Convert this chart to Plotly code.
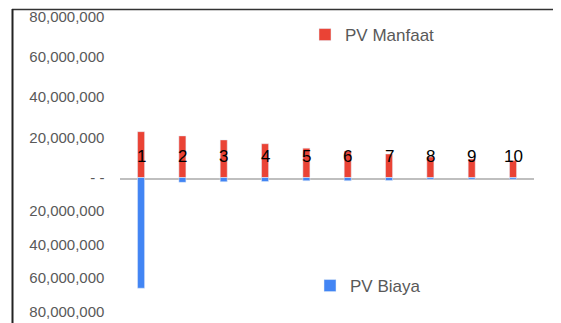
import plotly.graph_objects as go

categories = ["1", "2", "3", "4", "5", "6", "7", "8", "9", "10"]
pv_manfaat = [22.8e6, 20.7e6, 18.7e6, 16.8e6, 14.6e6, 13.2e6, 11.7e6, 10.2e6, 9.2e6, 8.4e6]
pv_biaya = [-66.0e6, -2.9e6, -2.5e6, -2.4e6, -1.9e6, -1.9e6, -1.8e6, -1.0e6, -1.0e6, -1.0e6]
pos_ticks = [0, 20e6, 40e6, 60e6, 80e6]
pos_ticktext = ["- -", "20,000,000", "40,000,000", "60,000,000", "80,000,000"]
neg_ticks = [-20e6, -40e6, -60e6, -80e6]
neg_ticktext = ["20,000,000", "40,000,000", "60,000,000", "80,000,000"]

OFF = 8  # default page body margin
W, H = 561 - OFF, 323 - OFF
RED = "#EA4335"
BLUE = "#4285F4"
GREY_TXT = "#595959"
FONT = "Liberation Sans, Arial, sans-serif"

def px_x(p):
    return (p - OFF) / W

def px_y(p):
    return 1 - (p - OFF) / H

fig = go.Figure()
fig.add_trace(go.Bar(x=categories, y=pv_manfaat, name="PV Manfaat", marker_color=RED,
                     width=0.17, xaxis="x", yaxis="y", legend="legend", showlegend=True))
fig.add_trace(go.Bar(x=categories, y=pv_biaya, name="PV Biaya", marker_color=BLUE,
                     width=0.17, xaxis="x", yaxis="y2", legend="legend2", showlegend=True))

for i, c in enumerate(categories):
    fig.add_annotation(x=i, y=0, xref="x", yref="y", text=c, showarrow=False,
                       yanchor="middle", yshift=21,
                       font=dict(family=FONT, size=17, color="#000000"))

zero_px = 177.5
fig.update_layout(
    width=W, height=H,
    showlegend=True,
    margin=dict(l=0, r=0, t=0, b=0, autoexpand=False),
    paper_bgcolor="white", plot_bgcolor="white",
    barmode="overlay",
    xaxis=dict(domain=[px_x(120.4), px_x(533.7)], anchor="y", type="category",
               range=[-0.5, 9.5], showticklabels=False, ticks="", automargin=False,
               showline=True, linecolor="#BFBFBF", linewidth=2, showgrid=False,
               zeroline=False),
    yaxis=dict(domain=[px_y(zero_px), px_y(16.7)], range=[0, 80e6], anchor="x",
               tickvals=pos_ticks, ticktext=pos_ticktext, showgrid=False, automargin=False,
               zeroline=False, showline=False, ticks="", ticklabelstandoff=15,
               ticklabeloverflow="allow",
               tickfont=dict(family=FONT, size=15, color=GREY_TXT)),
    yaxis2=dict(domain=[px_y(311.7), px_y(zero_px)], range=[-80e6, 0], anchor="x",
                tickvals=neg_ticks, ticktext=neg_ticktext, showgrid=False, automargin=False,
                zeroline=False, showline=False, ticks="", ticklabelstandoff=15,
                ticklabeloverflow="allow",
                tickfont=dict(family=FONT, size=15, color=GREY_TXT)),
    legend=dict(x=px_x(305), y=px_y(35), xanchor="left", yanchor="middle",
                bgcolor="rgba(0,0,0,0)", font=dict(family=FONT, size=17, color=GREY_TXT)),
    legend2=dict(x=px_x(310), y=px_y(286), xanchor="left", yanchor="middle",
                 bgcolor="rgba(0,0,0,0)", font=dict(family=FONT, size=17, color=GREY_TXT)),
    shapes=[
        dict(type="line", xref="paper", yref="paper", x0=px_x(12), x1=px_x(561),
             y0=px_y(9.5), y1=px_y(9.5), line=dict(color="#333333", width=1.5)),
        dict(type="line", xref="paper", yref="paper", x0=px_x(12.5), x1=px_x(12.5),
             y0=px_y(9), y1=px_y(323), line=dict(color="#222222", width=2)),
    ],
)

fig.write_html("out.html")
